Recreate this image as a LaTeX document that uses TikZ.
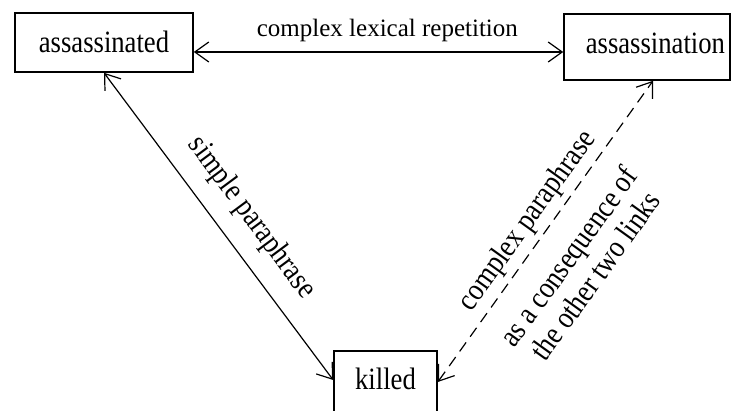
\documentclass[tikz,border=0pt]{standalone}
\usepackage{fontspec}
\setmainfont{Liberation Serif}
\newfontfamily\narrowserif[FakeStretch=0.86]{Liberation Serif}
\usetikzlibrary{arrows.meta,calc}

\begin{document}
\begin{tikzpicture}[x=1pt,y=1pt,
  word/.style={draw, line width=1.6pt, inner sep=0pt,
    font=\narrowserif\fontsize{31}{36}\selectfont, text height=21.7pt},
  barb/.tip={Straight Barb[length=14pt,width=20pt]},
  link/.style={line width=1.2pt, barb-barb},
  guess/.style={link, dash pattern=on 11pt off 7pt},
  tag/.style={font=\narrowserif\fontsize{31}{33}\selectfont, inner sep=0pt, align=center}]
\useasboundingbox (0,0) rectangle (731,410);
\clip (0,0) rectangle (731,410);

% the three words
\node[word, text depth=0.7pt, minimum width=178pt, minimum height=59pt] (a1) at (104,367.5) {assassinated};
\node[word, text depth=7.7pt, minimum width=166pt, minimum height=66pt, text width=156pt, align=right] (a2) at (647,363) {assassination};
\node[word, text depth=6.8pt, minimum width=103pt, minimum height=62pt] (k) at (385.5,28) {killed};

% links between them
\coordinate (hl) at (0,358);
\draw[link] (a1.east |- hl) -- node[pos=0.524, anchor=base, yshift=15pt, inner sep=0pt,
    font=\fontsize{25}{30}\selectfont] (lr) {complex lexical repetition} (a2.west |- hl);
\draw[link] (a1.south) -- (k.west |- 0,30);
\draw[guess] (k.east |- 0,28) -- (a2.south -| 653,0);

% slanted labels
\node[tag, rotate=-53.4] (sp) at (251.5,192) {simple paraphrase};
\node[tag, rotate=54.3] (cp) at (528,189) {complex paraphrase};
\node[tag, rotate=54.3] (cq) at (581.5,144) {as a consequence of\\the other two links};
\end{tikzpicture}
\end{document}
